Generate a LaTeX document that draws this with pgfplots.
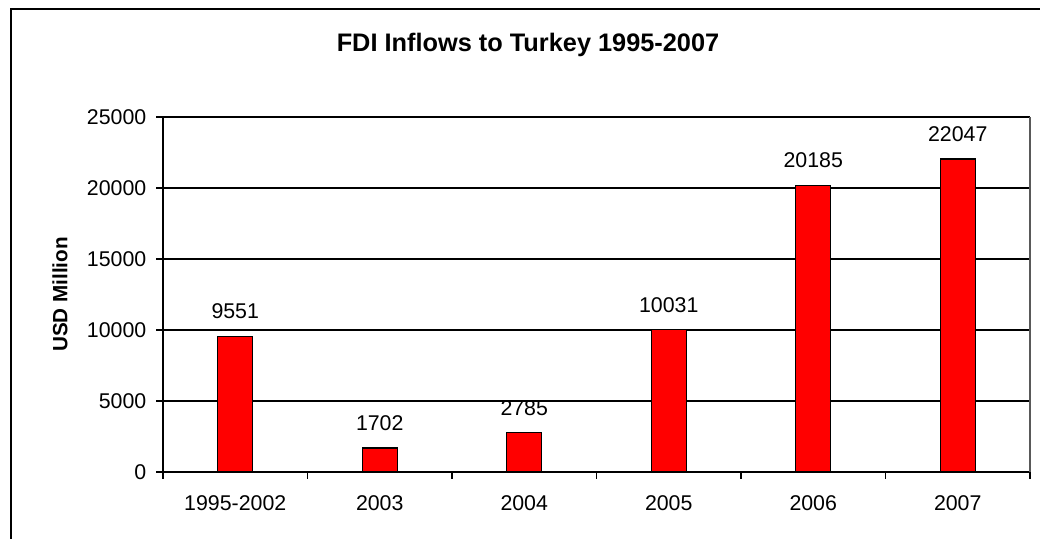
\documentclass[border=0pt]{standalone}
\usepackage{pgfplots}
\pgfplotsset{compat=1.18}
\usepackage{fontspec}
\setmainfont{Liberation Sans}
\begin{document}
\begin{tikzpicture}
\path[use as bounding box] (0,0) rectangle (780pt,404.25pt);
\draw[line width=1.5pt] (8.25pt,-20pt) -- (8.25pt,397.5pt) -- (800pt,397.5pt);
\begin{axis}[
  at={(122.25pt,50.25pt)}, anchor=south west,
  scale only axis, width=650.25pt, height=266.25pt,
  xmin=0, xmax=6, ymin=0, ymax=25000,
  axis x line*=bottom, axis y line*=left,
  axis line style={black, line width=1pt},
  ytick={0,5000,...,25000},
  ymajorgrids, grid style={black, line width=0.8pt},
  xtick={0.5,1.5,2.5,3.5,4.5,5.5},
  xticklabels={1995-2002,2003,2004,2005,2006,2007},
  major x tick style={draw=none},
  minor xtick={0,1,2,3,4,5,6},
  minor x tick style={black, line width=1.2pt},
  minor tick length=5pt,
  tick align=outside,
  major tick length=5pt,
  y tick style={black, line width=1pt},
  tick label style={font=\fontsize{16}{19}\selectfont},
  /pgf/number format/assume math mode=true,
  /pgf/number format/fixed,
  /pgf/number format/1000 sep={},
  scaled y ticks=false,
  xticklabel style={yshift=-9pt},
  yticklabel style={xshift=-4pt},
  ybar, bar width=26.25pt,
  nodes near coords,
  nodes near coords style={font=\fontsize{16}{19}\selectfont, anchor=south, yshift=9pt},
  clip=false,
]
\addplot[fill=red, draw=black, line width=1.1pt] coordinates {
  (0.5,9551) (1.5,1702) (2.5,2785) (3.5,10031) (4.5,20185) (5.5,22047)
};
\draw[gray!70!black, line width=1pt] (rel axis cs:1,0) -- (rel axis cs:1,1);
\end{axis}
\node[font=\bfseries\fontsize{19}{22}\selectfont] at (396pt,370.5pt) {FDI Inflows to Turkey 1995-2007};
\node[font=\bfseries\fontsize{15.5}{18}\selectfont, rotate=90] at (45pt,183.4pt) {USD Million};
\end{tikzpicture}
\end{document}
